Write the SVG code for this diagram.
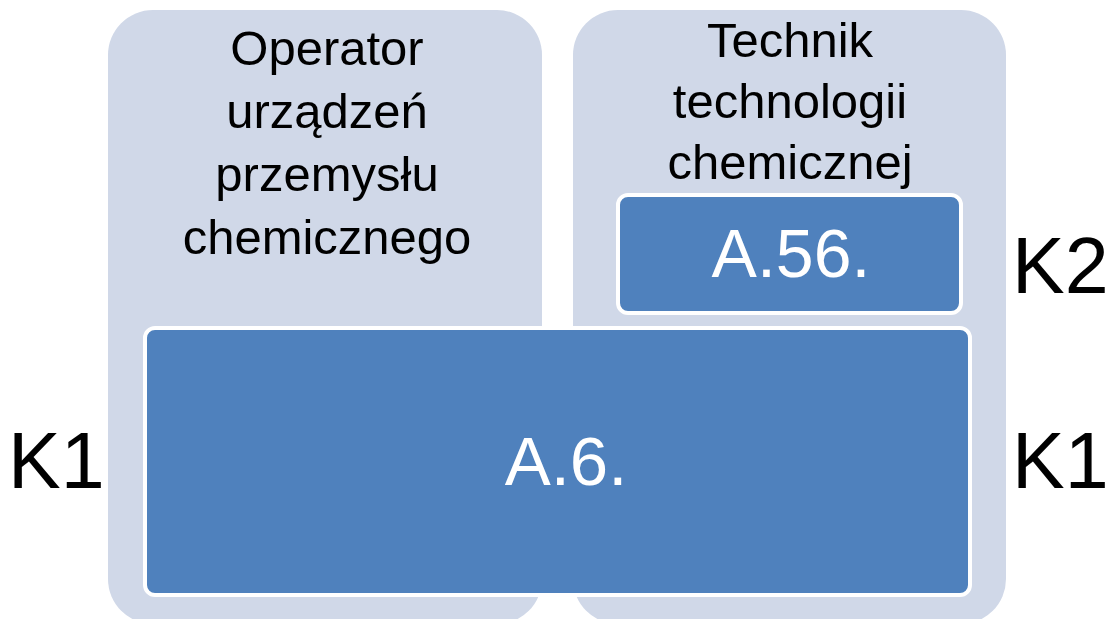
<svg xmlns="http://www.w3.org/2000/svg" width="1110" height="619" viewBox="0 0 1110 619">
<style>
.panel{fill:#D0D8E8;}
.box{fill:#4F81BD;stroke:#FFFFFF;stroke-width:4;}
.t{font-family:"Liberation Sans",Arial,sans-serif;fill:#000;text-anchor:middle;}
.w{font-family:"Liberation Sans",Arial,sans-serif;fill:#FFFFFF;text-anchor:middle;}
.k{font-family:"Liberation Sans",Arial,sans-serif;fill:#000;font-size:79px;}
</style>
<rect width="1110" height="619" fill="#FFFFFF"/>
<g id="panel-operator">
<rect class="panel" x="108" y="10" width="434" height="614" rx="45"/>
<text class="t" font-size="49" x="327" y="65">Operator</text>
<text class="t" font-size="49" x="327" y="128">urządzeń</text>
<text class="t" font-size="49" x="327" y="191">przemysłu</text>
<text class="t" font-size="49" x="327" y="254">chemicznego</text>
</g>
<g id="panel-technik">
<rect class="panel" x="573" y="10" width="433" height="614" rx="45"/>
<text class="t" font-size="49" x="790" y="57">Technik</text>
<text class="t" font-size="49" x="790" y="118">technologii</text>
<text class="t" font-size="49" x="790" y="179">chemicznej</text>
</g>
<g id="box-a56">
<rect class="box" x="618" y="195" width="343" height="118" rx="10"/>
<text class="w" font-size="68" x="791" y="277">A.56.</text>
</g>
<g id="box-a6">
<rect class="box" x="145" y="328" width="825" height="267" rx="10"/>
<text class="w" font-size="69" x="566" y="485">A.6.</text>
</g>
<g id="labels">
<text class="k" x="8" y="488">K1</text>
<text class="k" x="1012" y="293">K2</text>
<text class="k" x="1012" y="488">K1</text>
</g>
<g id="connectors"></g>
</svg>
